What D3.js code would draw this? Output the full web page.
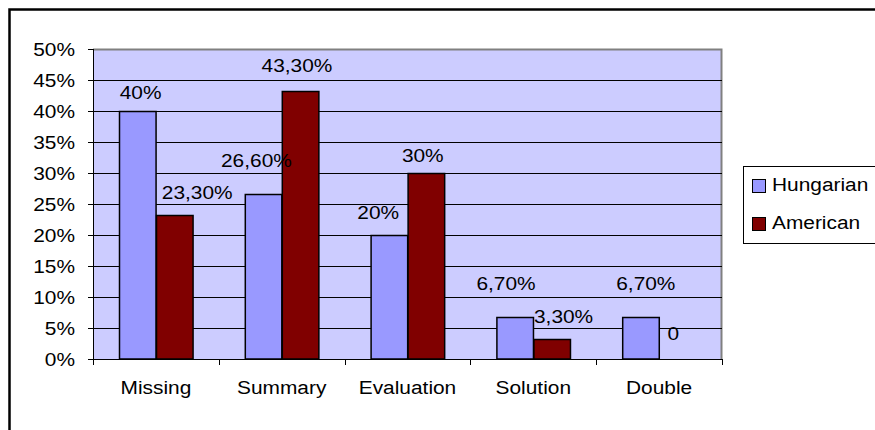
<!DOCTYPE html>
<html lang="en">
<head>
<meta charset="UTF-8">
<title>Hungarian vs American</title>
<script src="https://d3js.org/d3.v7.min.js"></script>
<style>
    body { margin: 0; background: #fff; }
    svg text { font-family: "Liberation Sans", Arial, sans-serif; font-size: 18px; fill: #000; }
</style>
</head>
<body>
<svg id="chart" width="875" height="430"></svg>
<script>
    // data
    const categories = ["Missing", "Summary", "Evaluation", "Solution", "Double"];
    const seriesNames = ["Hungarian", "American"];
    const hungarian = [40, 26.6, 20, 6.7, 6.7];
    const american = [23.3, 43.3, 30, 3.3, 0];
    const hungarianLabels = ["40%", "26,60%", "20%", "6,70%", "6,70%"];
    const americanLabels = ["23,30%", "43,30%", "30%", "3,30%", "0"];
    const yTicks = [0, 5, 10, 15, 20, 25, 30, 35, 40, 45, 50];

    // label nudges (labels were dragged around by hand in the original)
    const hungarianNudge = [[3, 0], [-7, -15], [-11, -4], [-9, -15], [5, -15]];
    const americanNudge = [[23, -4], [-3, -7], [-3, 1], [12, -4], [-4, -7]];

    const colors = { Hungarian: "#9999ff", American: "#800000" };
    const stretch = 1.16; // text in the original is a bit wide

    const margin = { top: 49, left: 93 };
    const width = 629, height = 310;

    const svg = d3.select("#chart");

    // outer chart border (runs off the right and bottom)
    svg.append("rect")
        .attr("x", 9.5).attr("y", 9.5)
        .attr("width", 900).attr("height", 450)
        .attr("fill", "#fff")
        .attr("stroke", "#000")
        .attr("stroke-width", 2.5);

    const g = svg.append("g").attr("transform", `translate(${margin.left},${margin.top})`);

    const x0 = d3.scaleBand().domain(categories).range([0, width]);
    const x1 = d3.scaleBand().domain(seriesNames).range([0, x0.bandwidth()])
        .paddingInner(0).paddingOuter(0.72);
    const y = d3.scaleLinear().domain([0, 50]).range([height, 0]);

    // plot area
    g.append("rect")
        .attr("width", width).attr("height", height)
        .attr("fill", "#ccccff");
    g.append("path")
        .attr("d", `M0,0.5H${width - 0.5}V${height}`)
        .attr("fill", "none")
        .attr("stroke", "#808080")
        .attr("stroke-width", 2);

    // gridlines
    g.selectAll(".grid")
        .data(yTicks.filter(t => t > 0 && t < 50))
        .enter().append("line")
        .attr("x1", 0).attr("x2", width)
        .attr("y1", d => Math.round(y(d)) + 0.5)
        .attr("y2", d => Math.round(y(d)) + 0.5)
        .attr("stroke", "#000");

    // bars
    const rows = categories.map((c, i) => ({
        cat: c,
        items: [
            { name: "Hungarian", value: hungarian[i], label: hungarianLabels[i], nudge: hungarianNudge[i] },
            { name: "American", value: american[i], label: americanLabels[i], nudge: americanNudge[i] }
        ]
    }));

    const groups = g.selectAll(".group")
        .data(rows)
        .enter().append("g")
        .attr("transform", d => `translate(${x0(d.cat)},0)`);

    groups.selectAll("rect")
        .data(d => d.items.filter(it => it.value > 0))
        .enter().append("rect")
        .attr("x", d => Math.round(x1(d.name)) + 0.5)
        .attr("y", d => Math.round(y(d.value)) + 0.5)
        .attr("width", x1.bandwidth())
        .attr("height", d => height - Math.round(y(d.value)) - 0.5)
        .attr("fill", d => colors[d.name])
        .attr("stroke", "#000")
        .attr("stroke-width", 1.5);

    // value labels
    groups.selectAll(".val")
        .data(d => d.items)
        .enter().append("text")
        .attr("class", "val")
        .attr("text-anchor", "middle")
        .attr("transform", d => {
            const cx = x1(d.name) + x1.bandwidth() / 2 + d.nudge[0];
            const cy = y(d.value) - 12 + d.nudge[1];
            return `translate(${cx},${cy}) scale(${stretch},1)`;
        })
        .text(d => d.label);

    // y axis
    const yAxis = g.append("g");
    yAxis.append("line")
        .attr("x1", 0.5).attr("x2", 0.5)
        .attr("y1", 0).attr("y2", height)
        .attr("stroke", "#000");
    yAxis.selectAll(".tick")
        .data(yTicks)
        .enter().append("line")
        .attr("x1", -5).attr("x2", 0)
        .attr("y1", d => Math.round(y(d)) + 0.5)
        .attr("y2", d => Math.round(y(d)) + 0.5)
        .attr("stroke", "#000");
    yAxis.selectAll(".lab")
        .data(yTicks)
        .enter().append("text")
        .attr("text-anchor", "end")
        .attr("transform", d => `translate(-18,${y(d) + 6.5}) scale(${stretch},1)`)
        .text(d => d + "%");

    // x axis
    const xAxis = g.append("g").attr("transform", `translate(0,${height})`);
    xAxis.append("line")
        .attr("x1", 0).attr("x2", width)
        .attr("y1", 0.5).attr("y2", 0.5)
        .attr("stroke", "#000");
    xAxis.selectAll(".tick")
        .data(categories.concat(["end"]))
        .enter().append("line")
        .attr("x1", (d, i) => Math.round(i * x0.step()) + 0.5)
        .attr("x2", (d, i) => Math.round(i * x0.step()) + 0.5)
        .attr("y1", 0).attr("y2", 6)
        .attr("stroke", "#000");
    xAxis.selectAll(".lab")
        .data(categories)
        .enter().append("text")
        .attr("text-anchor", "middle")
        .attr("transform", d => `translate(${x0(d) + x0.bandwidth() / 2},35) scale(${stretch},1)`)
        .text(d => d);

    // legend
    const legend = svg.append("g").attr("transform", "translate(743,166)");
    legend.append("rect")
        .attr("x", 0.5).attr("y", 0.5)
        .attr("width", 150).attr("height", 77)
        .attr("fill", "#fff")
        .attr("stroke", "#000");
    seriesNames.forEach((s, i) => {
        legend.append("rect")
            .attr("x", 9.5).attr("y", 13.5 + i * 38)
            .attr("width", 13).attr("height", 13)
            .attr("fill", colors[s])
            .attr("stroke", "#000");
        legend.append("text")
            .attr("transform", `translate(29,${25 + i * 38}) scale(${stretch},1)`)
            .text(s);
    });
</script>
</body>
</html>
